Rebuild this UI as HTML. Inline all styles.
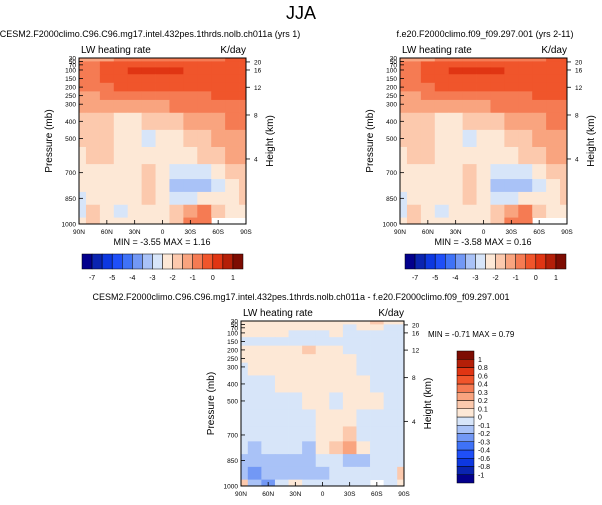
<!DOCTYPE html>
<html><head><meta charset="utf-8"><style>
body{margin:0;background:#fff;}
svg{display:block;font-family:"Liberation Sans",sans-serif;}
</style></head><body>
<svg id="s" width="602" height="505" viewBox="0 0 602 505">
<text x="301" y="19" font-size="18" text-anchor="middle">JJA</text>
</svg>
<script>
const pressures=[30,70,100,150,200,250,300,400,500,600,700,775,850,925,1000];
const lats=["90N","75N","60N","45N","30N","15N","0","15S","30S","45S","60S","75S","90S"];
const latTicks=["90N","60N","30N","0","30S","60S","90S"];
const pTicks=[30,50,70,100,150,200,250,300,400,500,700,850,1000];
const hTicks=[20,16,12,8,4];
const hTickP=[53,100,201,363,620];
const topColors=["#03008c","#0a24b0","#0d38e0","#1f4ff8","#3f72f7","#7298f5","#a9c2f7","#d7e5f9","#fde8d6","#fcc9ad","#f9a47f","#f57b53","#f0552b","#e03513","#b41f08","#7d0c02"];
const topBounds=[-7,-6,-5,-4.5,-4,-3.5,-3,-2.5,-2,-1.5,-1,-0.5,0,0.5,1];
const topLabels=["-7","-5","-4","-3","-2","-1","0","1"];
const diffBounds=[-1,-0.8,-0.6,-0.4,-0.3,-0.2,-0.1,0,0.1,0.2,0.3,0.4,0.6,0.8,1];
const diffLabels=["-1","-0.8","-0.6","-0.4","-0.3","-0.2","-0.1","0","0.1","0.2","0.3","0.4","0.6","0.8","1"];
const N=null;
const fieldA=[
[-1.2,-1.2,-1.1,-1.0,-0.9,-0.9,-0.9,-0.9,-0.9,-0.8,-0.6,-0.3,-0.3],
[-0.8,-0.6,-0.4,-0.3,-0.2,-0.2,-0.2,-0.3,-0.4,-0.5,-0.3,-0.3,-0.3],
[-0.7,-0.6,-0.4,-0.2,0.2,0.2,0.2,0.2,-0.2,-0.3,-0.3,-0.3,-0.3],
[-0.7,-0.6,-0.5,-0.3,-0.2,-0.2,-0.2,-0.2,-0.3,-0.3,-0.3,-0.3,-0.3],
[-0.8,-0.7,-0.6,-0.5,-0.5,-0.5,-0.5,-0.5,-0.4,-0.4,-0.3,-0.3,-0.3],
[-1.2,-1.1,-1.0,-0.9,-0.9,-0.9,-0.8,-0.7,-0.6,-0.6,-0.5,-0.5,-0.5],
[-1.4,-1.3,-1.3,-1.2,-1.2,-1.2,-1.1,-1.0,-0.9,-0.8,-0.7,-0.7,-0.7],
[-1.6,-1.6,-1.6,-2.2,-2.2,-1.7,-1.7,-1.6,-1.4,-1.2,-1.1,-1.0,-1.0],
[-1.7,-1.7,-1.7,-2.2,-2.2,-2.6,-2.2,-2.2,-1.7,-1.6,-1.3,-1.2,-1.2],
[-2.2,-1.8,-1.8,-2.2,-2.2,-2.2,-2.2,-2.4,-2.3,-2.0,-1.8,-1.5,-1.4],
[-2.2,-2.2,-2.2,-2.3,-2.2,-1.7,-2.2,-2.8,-2.8,-2.6,-2.2,-1.8,-1.6],
[-2.3,-2.2,-2.2,-2.2,-2.3,-1.7,-2.3,-3.2,-3.2,-3.2,-2.8,-2.2,-1.8],
[-2.8,-2.4,-2.2,-2.3,-2.2,-1.8,-2.2,-2.6,-2.6,-2.3,-2.3,-2.2,-1.8],
[-2.6,-1.6,-2.2,-2.8,-2.3,-2.2,-2.2,-1.7,-1.3,-0.7,-1.6,-2.3,-2.5],
[-2.2,-1.6,-2.2,-2.2,-2.2,-2.2,-2.2,-1.6,-1.0,-0.6,N,N,N]];
const fieldB=[
[-1.2,-1.2,-1.1,-1.0,-0.9,-0.9,-0.9,-0.9,-0.9,-0.8,-0.6,-0.3,-0.3],
[-0.8,-0.6,-0.4,-0.3,-0.2,-0.2,-0.2,-0.3,-0.4,-0.5,-0.3,-0.3,-0.3],
[-0.7,-0.6,-0.4,-0.2,0.2,0.2,0.2,0.2,-0.2,-0.3,-0.3,-0.3,-0.3],
[-0.7,-0.6,-0.5,-0.3,-0.2,-0.2,-0.2,-0.2,-0.3,-0.3,-0.3,-0.3,-0.3],
[-0.8,-0.7,-0.6,-0.5,-0.5,-0.5,-0.5,-0.5,-0.4,-0.4,-0.3,-0.3,-0.3],
[-1.2,-1.1,-1.0,-0.9,-0.9,-0.9,-0.8,-0.7,-0.6,-0.6,-0.5,-0.5,-0.5],
[-1.4,-1.3,-1.3,-1.2,-1.2,-1.2,-1.1,-1.0,-0.9,-0.8,-0.7,-0.7,-0.7],
[-1.6,-1.6,-1.6,-2.2,-2.2,-1.7,-1.7,-1.6,-1.4,-1.2,-1.1,-1.0,-1.0],
[-1.7,-1.7,-1.7,-2.2,-2.2,-2.6,-2.2,-2.2,-1.7,-1.6,-1.3,-1.2,-1.2],
[-2.2,-1.8,-1.8,-2.2,-2.2,-2.2,-2.2,-2.4,-2.3,-2.0,-1.8,-1.5,-1.4],
[-2.2,-2.2,-2.2,-2.3,-2.2,-1.8,-2.2,-2.8,-2.8,-2.6,-2.2,-1.8,-1.6],
[-2.3,-2.2,-2.2,-2.2,-2.3,-1.8,-2.3,-3.1,-3.3,-3.2,-2.8,-2.2,-1.8],
[-2.7,-2.4,-2.2,-2.3,-2.2,-1.8,-2.2,-2.6,-2.6,-2.3,-2.3,-2.2,-1.8],
[-2.6,-1.6,-2.2,-2.7,-2.3,-2.2,-2.2,-1.7,-1.3,-0.7,-1.6,-2.3,-2.5],
[-2.2,-1.6,-2.2,-2.2,-2.2,-2.2,-2.2,-1.6,-1.0,-0.6,N,N,N]];
const fieldD=[
[.05,.05,.05,.05,.05,.05,.05,.05,.05,.05,.15,.05,.05],
[.05,.05,.05,.05,.05,.05,.05,.05,-.05,.05,.05,-.05,-.05],
[.05,.05,.05,.05,-.05,-.05,-.05,.05,-.05,-.05,-.05,-.05,-.05],
[-.05,-.05,-.05,-.05,-.05,-.05,-.05,-.05,-.05,-.05,-.05,-.05,-.05],
[.05,.05,.05,.05,.05,.15,.05,.05,-.05,-.05,-.05,-.05,-.05],
[.05,.05,.05,.05,.05,.05,.05,.05,.05,-.05,-.05,-.05,-.05],
[-.05,.05,.05,.05,.05,.05,.05,.05,.05,-.05,-.05,-.05,-.05],
[-.05,-.05,-.05,.05,.05,.05,.05,.05,.05,.05,-.05,-.05,-.05],
[-.05,-.05,-.05,-.05,-.05,.05,.05,-.05,.05,.05,.05,-.05,-.05],
[-.05,-.05,-.05,-.05,-.05,-.05,.05,.05,.05,-.05,-.05,-.05,-.05],
[-.05,-.05,-.05,-.05,-.05,-.05,.05,.05,.15,-.05,-.05,-.05,-.05],
[-.05,-.15,-.05,-.05,-.05,-.15,.05,.15,.25,.05,-.05,-.05,-.05],
[-.15,-.15,-.15,-.15,-.15,-.15,-.05,-.05,-.15,-.15,-.05,-.05,-.05],
[-.15,-.25,-.15,-.15,-.15,-.15,-.15,-.05,-.05,-.05,-.05,-.05,.15],
[.15,-.15,-.25,-.05,.05,-.05,-.05,-.05,-.05,-.05,N,-.05,.05]];

const NS="http://www.w3.org/2000/svg";
const svg=document.getElementById('s');
function mk(tag,attrs,parent,text){const e=document.createElementNS(NS,tag);for(const k in attrs)e.setAttribute(k,attrs[k]);if(text!==undefined)e.textContent=text;(parent||svg).appendChild(e);return e;}
function colorFor(v,bounds){let i=0;while(i<bounds.length&&v>=bounds[i])i++;return topColors[i];}

function drawPlot(name,x0,x1,y0,y1,field,bounds){
  const g=mk('g',{});
  
  
  const pMin=30,pMax=1000;
  const yS=p=>y0+(p-pMin)/(pMax-pMin)*(y1-y0);
  const n=lats.length;
  const xS=i=>x0+i/(n-1)*(x1-x0);
  for(let r=0;r<pressures.length;r++){
    const pt=r===0?pMin:(pressures[r-1]+pressures[r])/2;
    const pb=r===pressures.length-1?pMax:(pressures[r]+pressures[r+1])/2;
    for(let c=0;c<n;c++){
      const v=field[r][c];
      if(v===null)continue;
      const xl=c===0?x0:(xS(c-1)+xS(c))/2;
      const xr=c===n-1?x1:(xS(c)+xS(c+1))/2;
      const rc=mk('rect',{x:xl,y:yS(pt),width:xr-xl+0.4,height:yS(pb)-yS(pt)+0.4,fill:colorFor(v,bounds)},g);
      
      
    }
  }
  mk('rect',{x:x0,y:y0,width:x1-x0,height:y1-y0,fill:'none',stroke:'#000','stroke-width':1},g);
  pTicks.forEach(p=>{const y=yS(p);
    mk('line',{x1:x0,x2:x0+4,y1:y,y2:y,stroke:'#000','stroke-width':0.8},g);
    const t=mk('text',{x:x0-3,y:y+2.5,'font-size':6.5,'text-anchor':'end'},g,String(p));
    
    });
  hTicks.forEach((h,i)=>{const y=yS(hTickP[i]);
    mk('line',{x1:x1,x2:x1+4,y1:y,y2:y,stroke:'#000','stroke-width':0.8},g);
    const t=mk('text',{x:x1+8,y:y+2.5,'font-size':6.5},g,String(h));
    
    });
  latTicks.forEach((l,i)=>{const x=x0+i/(latTicks.length-1)*(x1-x0);
    mk('line',{x1:x,x2:x,y1:y1,y2:y1-4,stroke:'#000','stroke-width':0.8},g);
    const t=mk('text',{x:x,y:y1+10,'font-size':6.5,'text-anchor':'middle'},g,l);
    
    });
  const a=mk('text',{x:x0+2,y:y0-5,'font-size':10},g,'LW heating rate');
  
  const b=mk('text',{x:x1,y:y0-5,'font-size':10,'text-anchor':'end'},g,'K/day');
  
  const ym=(y0+y1)/2;
  const c=mk('text',{x:x0-27,y:ym,'font-size':10,'text-anchor':'middle',transform:`rotate(-90 ${x0-27} ${ym})`},g,'Pressure (mb)');
  
  const d=mk('text',{x:x1+27,y:ym,'font-size':10,'text-anchor':'middle',transform:`rotate(-90 ${x1+27} ${ym})`},g,'Height (km)');
  
}
function hBar(name,x0,y0,w,h,labels){
  const g=mk('g',{});
  
  
  const bw=w/topColors.length;
  topColors.forEach((c,i)=>{const r=mk('rect',{x:x0+i*bw,y:y0,width:bw,height:h,fill:c,stroke:'#000','stroke-width':0.5},g);
    });
  labels.forEach((l,i)=>{const t=mk('text',{x:x0+(1+2*i)*bw,y:y0+h+11,'font-size':7,'text-anchor':'middle'},g,l);
    });
}
function txt(name,x,y,s,str,anchor){const t=mk('text',{x:x,y:y,'font-size':s,'text-anchor':anchor||'middle'},svg,str);
  return t;}

txt('left-title',150,37,9,'CESM2.F2000climo.C96.C96.mg17.intel.432pes.1thrds.nolb.ch011a (yrs 1)');
txt('right-title',485,37,9,'f.e20.F2000climo.f09_f09.297.001 (yrs 2-11)');
drawPlot('left-plot',79,246,58,224,fieldA,topBounds);
drawPlot('right-plot',400,567,58,224,fieldB,topBounds);
txt('left-minmax',162,245,9,'MIN =  -3.55  MAX =   1.16').setAttribute('xml:space','preserve');
txt('right-minmax',483,245,9,'MIN =  -3.58  MAX =   0.16').setAttribute('xml:space','preserve');
hBar('left-colorbar',82,254,161,15,topLabels);
hBar('right-colorbar',405,254,161,15,topLabels);
txt('diff-title',301,300,9,'CESM2.F2000climo.C96.C96.mg17.intel.432pes.1thrds.nolb.ch011a - f.e20.F2000climo.f09_f09.297.001');
drawPlot('diff-plot',241,404,321,486,fieldD,diffBounds);
txt('diff-minmax',428,337,8,'MIN =  -0.71  MAX =   0.79','start').setAttribute('xml:space','preserve');
(function(){
  const g=mk('g',{});
  
  
  const x0=457,y0=351,w=17,h=132,bh=h/topColors.length;
  topColors.forEach((c,i)=>{const r=mk('rect',{x:x0,y:y0+h-(i+1)*bh,width:w,height:bh,fill:c,stroke:'#000','stroke-width':0.5},g);
    });
  diffLabels.forEach((l,i)=>{const t=mk('text',{x:x0+w+4,y:y0+h-(i+1)*bh+2.5,'font-size':7},g,l);
    });
})();
</script>
</body></html>
